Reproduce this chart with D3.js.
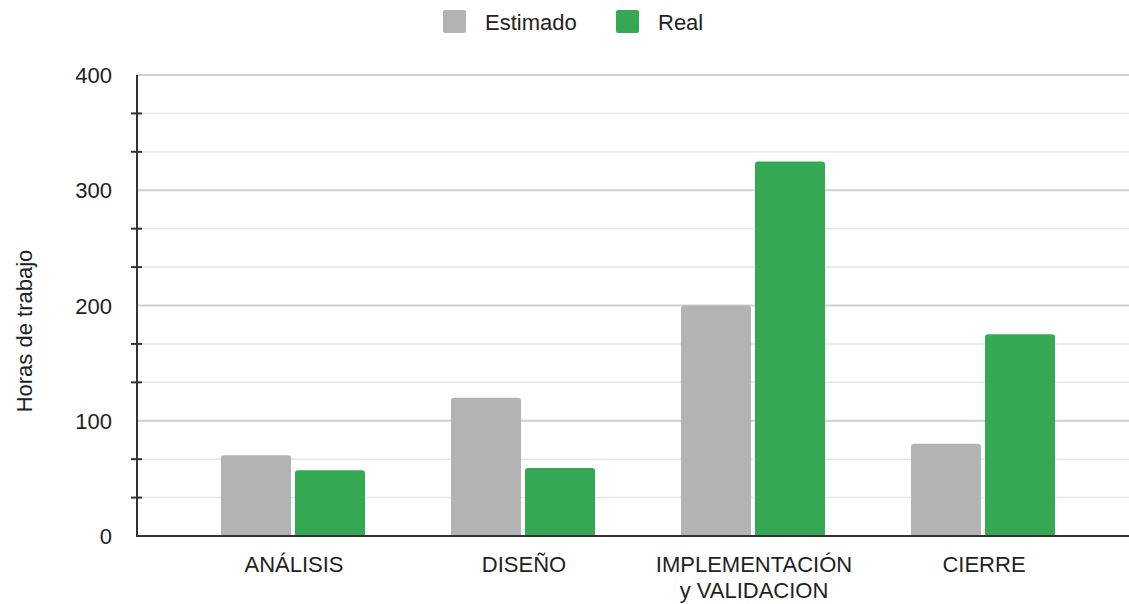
<!DOCTYPE html>
<html>
<head>
<meta charset="utf-8">
<script src="https://cdn.jsdelivr.net/npm/d3@7"></script>
<style>
    body { margin: 0; background: #fff; }
    text { font-family: "Liberation Sans", Arial, sans-serif; fill: #222; }
</style>
</head>
<body>
<div id="chart"></div>
<script>
// data
let phases = ["ANÁLISIS", "DISEÑO", "IMPLEMENTACIÓN\ny VALIDACION", "CIERRE"];
let estimado = [70, 120, 200, 80];
let real = [57, 59, 325, 175];
let seriesNames = ["Estimado", "Real"];
let seriesColors = ["#b3b3b3", "#34a853"];
let yTicks = [0, 100, 200, 300, 400];

let width = 1129, height = 604;
let axisX = 137;

let svg = d3.select("#chart").append("svg")
    .attr("width", width)
    .attr("height", height);

let y = d3.scaleLinear()
    .domain([0, 400])
    .range([536, 75]);

let x = d3.scaleBand()
    .domain(phases)
    .range([178, 1098])
    .padding(0);

let xInner = d3.scaleBand()
    .domain(seriesNames)
    .range([43, 187])
    .paddingInner(4 / 74);

// grid lines, minor every third
let minor = d3.range(0, 400, 100 / 3).filter(v => v % 100 > 1 && v % 100 < 99);
svg.selectAll(".minor-grid")
    .data(minor)
    .enter().append("line")
    .attr("x1", axisX).attr("x2", width)
    .attr("y1", d => y(d)).attr("y2", d => y(d))
    .attr("stroke", "#e6e6e6")
    .attr("stroke-width", 1.5);

svg.selectAll(".major-grid")
    .data(yTicks.filter(d => d > 0))
    .enter().append("line")
    .attr("x1", axisX).attr("x2", width)
    .attr("y1", d => y(d)).attr("y2", d => y(d))
    .attr("stroke", "#d0d0d0")
    .attr("stroke-width", 2);

// bars with slightly rounded tops
function topRounded(x0, y0, w, h, r) {
    r = Math.min(r, h);
    return `M${x0},${y0 + h}V${y0 + r}Q${x0},${y0} ${x0 + r},${y0}H${x0 + w - r}Q${x0 + w},${y0} ${x0 + w},${y0 + r}V${y0 + h}Z`;
}

let rows = [];
phases.forEach(function(p, i) {
    rows.push({phase: p, key: "Estimado", value: estimado[i]});
    rows.push({phase: p, key: "Real", value: real[i]});
});

svg.selectAll(".bar")
    .data(rows)
    .enter().append("path")
    .attr("class", "bar")
    .attr("fill", d => seriesColors[seriesNames.indexOf(d.key)])
    .attr("d", d => topRounded(x(d.phase) + xInner(d.key), y(d.value), xInner.bandwidth(), y(0) - y(d.value), 3));

// y axis line + minor tick marks
svg.append("line")
    .attr("x1", axisX).attr("x2", axisX)
    .attr("y1", y(400)).attr("y2", y(0))
    .attr("stroke", "#333").attr("stroke-width", 2);

svg.selectAll(".ytick")
    .data(minor)
    .enter().append("line")
    .attr("x1", axisX - 6).attr("x2", axisX + 5)
    .attr("y1", d => y(d)).attr("y2", d => y(d))
    .attr("stroke", "#333").attr("stroke-width", 2);

svg.append("line")
    .attr("x1", axisX - 1).attr("x2", width)
    .attr("y1", y(0)).attr("y2", y(0))
    .attr("stroke", "#333").attr("stroke-width", 2);

svg.selectAll(".ylab")
    .data(yTicks)
    .enter().append("text")
    .attr("x", 112)
    .attr("y", d => y(d) + 8)
    .attr("text-anchor", "end")
    .attr("font-size", "22px")
    .text(d => d);

svg.append("text")
    .attr("transform", "translate(32,331) rotate(-90)")
    .attr("text-anchor", "middle")
    .attr("font-size", "22px")
    .text("Horas de trabajo");

// category labels
phases.forEach(function(p) {
    let lines = p.split("\n");
    let t = svg.append("text")
        .attr("text-anchor", "middle")
        .attr("font-size", "22px");
    lines.forEach(function(l, j) {
        t.append("tspan")
            .attr("x", x(p) + x.bandwidth() / 2 + 1)
            .attr("y", 572 + j * 26)
            .text(l);
    });
});

// legend
let legendX = [443, 616];
seriesNames.forEach(function(s, i) {
    svg.append("rect")
        .attr("x", legendX[i]).attr("y", 10)
        .attr("width", 23).attr("height", 23)
        .attr("rx", 2)
        .attr("fill", seriesColors[i]);
    svg.append("text")
        .attr("x", legendX[i] + 42).attr("y", 30)
        .attr("font-size", "22px")
        .text(s);
});
</script>
</body>
</html>
